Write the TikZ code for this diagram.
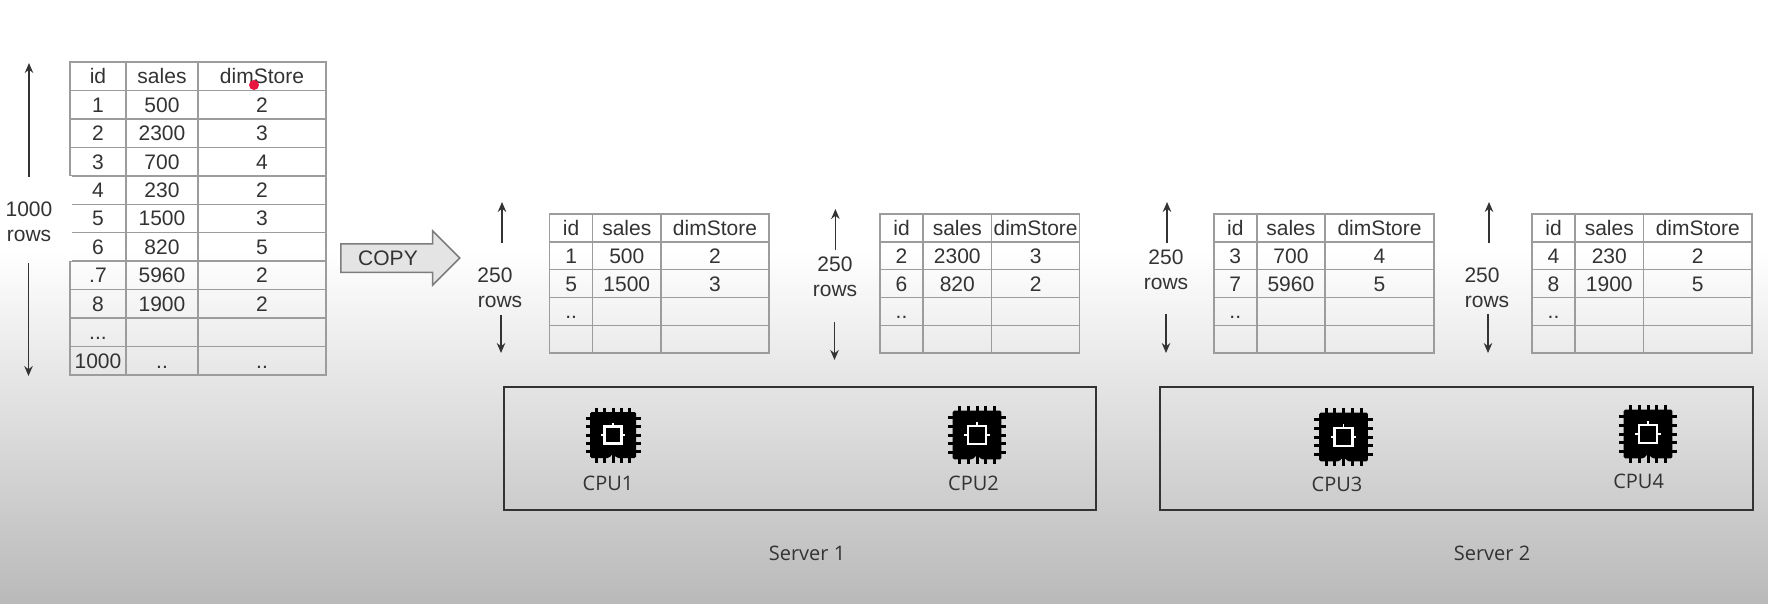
\documentclass[tikz,border=0pt]{standalone}
\usepackage{fontspec}
\setmainfont{Liberation Sans}
\newfontfamily\serverfont{Open Sans}
\usetikzlibrary{matrix,shapes.arrows,arrows.meta}
\definecolor{gridgray}{HTML}{9C9C9C}
\definecolor{inkgray}{HTML}{333333}
\definecolor{bgbottom}{HTML}{B9B9B9}
\definecolor{copyfill}{HTML}{E4E4E4}
\definecolor{dotred}{HTML}{E8173F}
\tikzset{
	datatable/.style n args={4}{matrix of nodes, nodes in empty cells, anchor=north west,
		inner sep=0pt, outer sep=0pt, row sep=-1.4pt, column sep=-1.4pt,
		nodes={draw=gridgray, line width=1.4pt, outer sep=0pt, inner sep=0pt,
			minimum height=#4pt, text height=15pt, text depth=0pt,
			text=inkgray, font=\fontsize{21}{25}\selectfont},
		column 1/.style={nodes={minimum width=#1pt}},
		column 2/.style={nodes={minimum width=#2pt}},
		column 3/.style={nodes={minimum width=#3pt}}},
	rowslabel/.style={inner sep=0pt, text=inkgray, font=\fontsize{21}{25}\selectfont},
	rowsarrow/.style={draw=inkgray, line width=1.4pt, -{Stealth[length=10pt,width=8.5pt]}},
	serverbox/.style={draw=inkgray, line width=1.5pt, minimum height=123pt, inner sep=0pt},
	serverlabel/.style={inner sep=0pt, text=inkgray, font=\serverfont\fontsize{20}{24}\selectfont},
	cpuchip/.pic={
		\foreach \p in {-16.5,-8.25,0,8.25,16.5}{
			\draw[black,line width=3pt] (\p,-27.5) -- (\p,27.5);
			\draw[black,line width=3pt] (-27.5,\p) -- (27.5,\p);
		}
		\fill[black,rounded corners=1.5pt] (-23,-23) -- (23,-23) -- (23,23) -- (4,23)
			-- (0,18.5) -- (-4,23) -- (-23,23) -- cycle;
		\draw[white,line width=2.2pt] (-8.5,-8.5) rectangle (8.5,8.5);
		\foreach \a/\b/\c/\d in {0/-8.5/0/-12,-8.5/0/-12/0,8.5/0/12/0}
			\draw[white,line width=1.8pt] (\a,\b) -- (\c,\d);
	}
}
\begin{document}
\begin{tikzpicture}[x=1pt,y=-1pt]
	\useasboundingbox (0,0) rectangle (1768,604);
	\fill[white] (0,0) rectangle (1768,250);
	\fill[top color=white,bottom color=bgbottom] (0,250) rectangle (1768,604);

	% source table
	\matrix[datatable={56}{72}{128}{28.45}] (src) at (69.3,61.3) {
		id & sales & dimStore \\
		1 & 500 & 2 \\
		2 & 2300 & 3 \\
		3 & 700 & 4 \\
		4 & 230 & 2 \\
		5 & 1500 & 3 \\
		6 & 820 & 5 \\
		.7 & 5960 & 2 \\
		8 & 1900 & 2 \\
		... & & \\
		1000 & .. & .. \\
	};
	\fill[white] (67.5,176) rectangle (71.6,261);
	\node[circle,fill=dotred,inner sep=0pt,minimum size=10pt] (cursor) at (254,85) {};

	\node[rowslabel] (rows0a) at (29,209) {1000};
	\node[rowslabel] (rows0b) at (29,236) {rows};

	% copy arrow
	\node[single arrow,draw=gridgray!80!black,fill=copyfill,line width=1.5pt,inner sep=0pt,inner ysep=13.5pt,
		minimum height=119pt,minimum width=53pt,single arrow head extend=13pt,anchor=tail] (copy) at (340,258) {};
	\node[rowslabel] (copytext) at (388,258) {COPY};

	% partitions
	\matrix[datatable={43}{68.4}{108}{27.8}] (part1) at (548.9,213.3) {
		id & sales & dimStore \\
		1 & 500 & 2 \\
		5 & 1500 & 3 \\
		.. & & \\
		& & \\
	};
	\matrix[datatable={43}{68.6}{88}{27.8}] (part2) at (879.3,213.3) {
		id & sales & dimStore \\
		2 & 2300 & 3 \\
		6 & 820 & 2 \\
		.. & & \\
		& & \\
	};
	\matrix[datatable={43}{68.2}{109}{27.8}] (part3) at (1213.1,213.3) {
		id & sales & dimStore \\
		3 & 700 & 4 \\
		7 & 5960 & 5 \\
		.. & & \\
		& & \\
	};
	\matrix[datatable={43}{68.5}{108.5}{27.8}] (part4) at (1531.3,213.3) {
		id & sales & dimStore \\
		4 & 230 & 2 \\
		8 & 1900 & 5 \\
		.. & & \\
		& & \\
	};

	\node[rowslabel] (rows1a) at (495,275) {250};
	\node[rowslabel] (rows1b) at (500,302) {rows};
	\node[rowslabel] (rows2a) at (835,264) {250};
	\node[rowslabel] (rows2b) at (835,291) {rows};
	\node[rowslabel] (rows3a) at (1166,257) {250};
	\node[rowslabel] (rows3b) at (1166,284) {rows};
	\node[rowslabel] (rows4a) at (1482,275) {250};
	\node[rowslabel] (rows4b) at (1487,302) {rows};

	% row count arrows
	\foreach \n/\xu/\xd/\yt/\yu/\yd/\yb in {0/29/28.5/63/177/263/376,1/502/501/202/243/315/353,
		2/835.4/834.5/209/250/322/360,3/1167/1166/202/243/314/353,4/1489/1488/202/243/314/353}{
		\coordinate (up\n) at (\xu,\yu);
		\coordinate (uptip\n) at (\xu,\yt);
		\coordinate (down\n) at (\xd,\yd);
		\coordinate (downtip\n) at (\xd,\yb);
		\draw[rowsarrow] (up\n) -- (uptip\n);
		\draw[rowsarrow] (down\n) -- (downtip\n);
	}

	% servers
	\node[serverbox,minimum width=592pt,anchor=north west] (server1) at (503,386) {};
	\node[serverbox,minimum width=593pt,anchor=north west] (server2) at (1159,386) {};
	\node[serverlabel] (server1text) at (807,553) {Server 1};
	\node[serverlabel] (server2text) at (1492,553) {Server 2};

	\pic at (613,435) {cpuchip};
	\pic[scale=1.06] at (977,435) {cpuchip};
	\pic[scale=1.06] at (1343.5,437) {cpuchip};
	\pic[scale=1.06] at (1648,434) {cpuchip};
	\node[serverlabel] (cpu1) at (608,483) {CPU1};
	\node[serverlabel] (cpu2) at (973.5,483) {CPU2};
	\node[serverlabel] (cpu3) at (1337,484) {CPU3};
	\node[serverlabel] (cpu4) at (1638.6,481) {CPU4};
\end{tikzpicture}
\end{document}
